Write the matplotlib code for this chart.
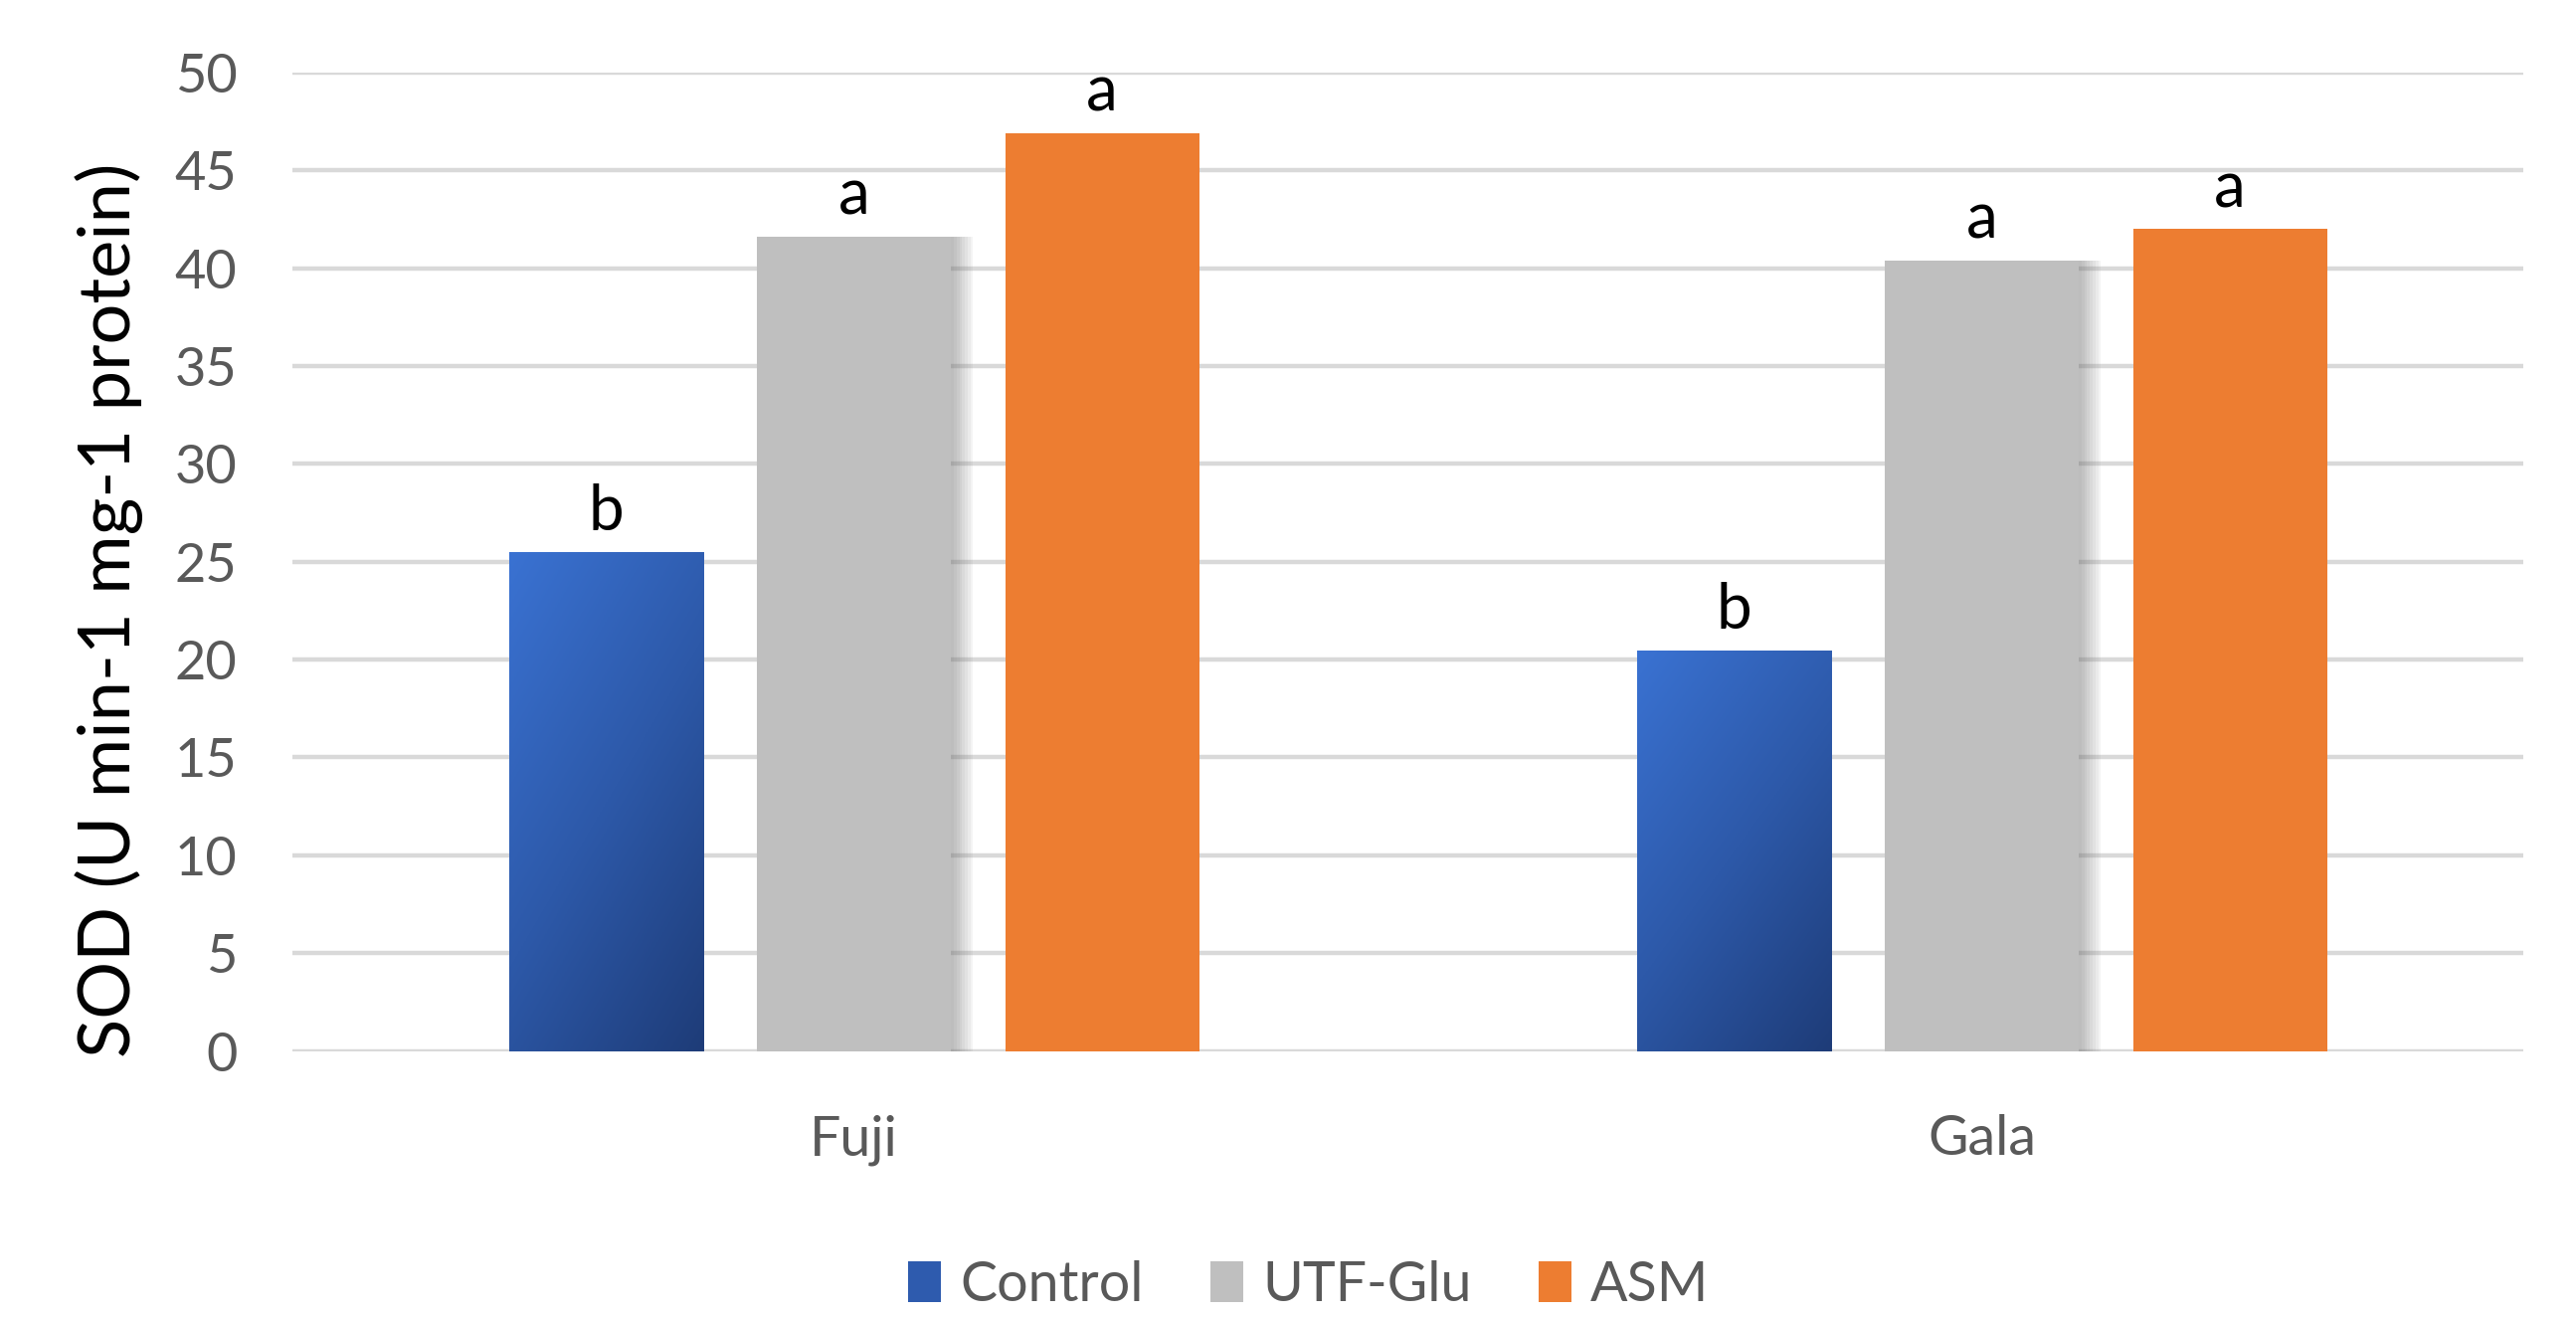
#!/usr/bin/env python3
"""SOD activity bar chart for Fuji and Gala apples."""

import numpy as np
import matplotlib

matplotlib.use("Agg")
import matplotlib.pyplot as plt
from matplotlib import patheffects
from matplotlib.colors import LinearSegmentedColormap
from matplotlib.patches import Patch

cultivars = ["Fuji", "Gala"]
treatments = ["Control", "UTF-Glu", "ASM"]
sod_control = [25.5, 20.45]
sod_utf_glu = [41.6, 40.4]
sod_asm = [46.9, 42.0]
letters_control = ["b", "b"]
letters_utf_glu = ["a", "a"]
letters_asm = ["a", "a"]

BLUE_LIGHT = "#3a72d2"
BLUE_DARK = "#1e3c78"
GREY = "#bfbfbf"
ORANGE = "#ed7d31"
GRID = "#d9d9d9"
TEXT_GREY = "#595959"

plt.rcParams["font.family"] = ["Lato", "DejaVu Sans"]

fig = plt.figure(figsize=(25.9, 13.24), dpi=100)
ax = fig.add_axes([0.1135, 0.202, 0.866, 0.743])

x = np.arange(len(cultivars))
width = 0.172
step = 0.22

shadow = [
    patheffects.SimplePatchShadow(offset=(k, 0), shadow_rgbFace="#707070", alpha=0.07)
    for k in range(2, 18, 2)
] + [patheffects.Normal()]

series = [
    (sod_control, letters_control, BLUE_LIGHT, None),
    (sod_utf_glu, letters_utf_glu, GREY, shadow),
    (sod_asm, letters_asm, ORANGE, None),
]

containers = []
for i, (values, letters, color, effects) in enumerate(series):
    bars = ax.bar(x + (i - 1) * step, values, width, color=color, zorder=3)
    if effects:
        for b in bars:
            b.set_path_effects(effects)
    containers.append(bars)
    for b, letter in zip(bars, letters):
        ax.annotate(
            letter,
            (b.get_x() + b.get_width() / 2, b.get_height()),
            xytext=(0, 8),
            textcoords="offset points",
            ha="center",
            va="bottom",
            fontsize=46,
            color="black",
            zorder=5,
        )

# diagonal gradient fill for the Control bars
cmap = LinearSegmentedColormap.from_list("ctrl", [BLUE_LIGHT, "#2d59a9", BLUE_DARK])
gx, gy = np.meshgrid(np.linspace(0, 1, 200), np.linspace(0, 1, 200))
grad = 0.4 * gx + 0.6 * gy
for b in containers[0]:
    b.set_facecolor("none")
    x0, y0 = b.get_x(), b.get_y()
    im = ax.imshow(
        grad,
        cmap=cmap,
        extent=[x0, x0 + b.get_width(), y0, y0 + b.get_height()],
        origin="upper",
        aspect="auto",
        zorder=3,
        interpolation="bilinear",
    )
    im.set_clip_path(b)

ax.set_xlim(-0.498, 1.48)
ax.set_ylim(0, 50)
ax.set_yticks(np.arange(0, 51, 5))
ax.set_xticks(x)
ax.set_xticklabels(cultivars)
ax.yaxis.grid(True, color=GRID, linewidth=3.2, zorder=0)
ax.set_axisbelow(True)
for spine in ax.spines.values():
    spine.set_visible(False)
ax.tick_params(axis="y", length=0, pad=40, labelsize=39, labelcolor=TEXT_GREY)
ax.tick_params(axis="x", length=0, pad=46, labelsize=40, labelcolor=TEXT_GREY)

ax.set_ylabel("SOD (U min-1 mg-1 protein)", fontsize=52, color="black")
ax.yaxis.set_label_coords(-0.067, 0.451)

handles = [
    Patch(facecolor="#2e5bae", label=treatments[0]),
    Patch(facecolor=GREY, label=treatments[1]),
    Patch(facecolor=ORANGE, label=treatments[2]),
]
fig.legend(
    handles=handles,
    loc="center",
    bbox_to_anchor=(0.508, 0.024),
    ncol=3,
    frameon=False,
    fontsize=40,
    labelcolor=TEXT_GREY,
    handlelength=0.6,
    handleheight=0.75,
    handletextpad=0.35,
    columnspacing=1.2,
)

fig.savefig("out.png", dpi=100)
